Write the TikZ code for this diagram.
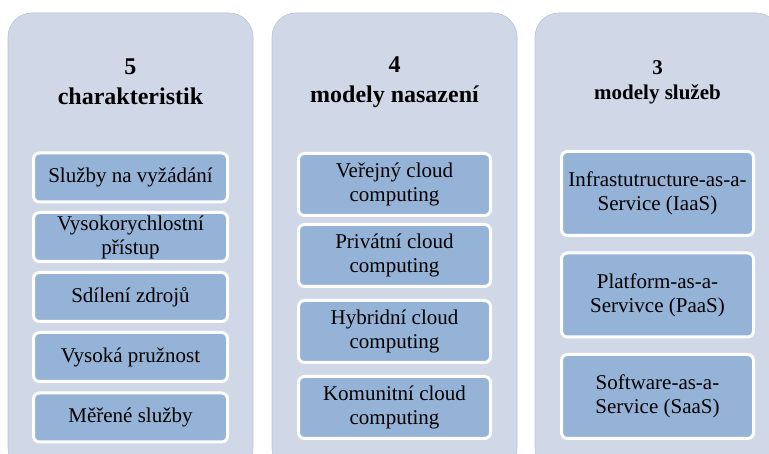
\documentclass[tikz,border=0pt]{standalone}
\usepackage{fontspec}
\setmainfont{Liberation Serif}
\definecolor{panelc}{HTML}{D0D8E8}
\definecolor{paneledge}{HTML}{BCC4D2}
\definecolor{itemc}{HTML}{95B3D7}
\tikzset{
  panel/.style={fill=panelc, draw=paneledge, line width=0.6pt, rounded corners=24pt},
  item/.style={rectangle, rounded corners=6pt, fill=itemc, draw=white, line width=3pt,
    align=center, inner sep=2pt, font=\fontsize{21}{24}\selectfont},
  ptitle/.style={align=center, font=\bfseries\fontsize{24}{30}\selectfont},
  ptitlesmall/.style={align=center, font=\bfseries\fontsize{21}{25}\selectfont}
}
\begin{document}
\begin{tikzpicture}[x=1pt,y=-1pt]
\useasboundingbox (0,0) rectangle (769,454);
\begin{scope}
\clip (0,0) rectangle (769,454);
\draw[panel] (8,13) rectangle (253,472);
\draw[panel] (272,13) rectangle (517,472);
\draw[panel] (535,13) rectangle (780,472);
\end{scope}
% titles
\node[ptitle] (t1) at (130.5,82) {5\\charakteristik};
\node[ptitle] (t2) at (394.5,82) {4\\modely nasazení};
\node[ptitlesmall] (t3) at (657.5,82) {3\\modely služeb};
% panel 1 items
\foreach \n/\y/\t in {a1/177.5/{Služby na vyžádání},a2/237/{Vysokorychlostní\\přístup},a3/297/{Sdílení zdrojů},a4/357/{Vysoká pružnost},a5/417.5/{Měřené služby}}{
  \node[item, minimum width=194pt, minimum height=49pt] (\n) at (130.5,\y) {\t};
}
% panel 2 items
\foreach \n/\y/\t in {b1/184.5/{Veřejný cloud\\computing},b2/255.5/{Privátní cloud\\computing},b3/331.5/{Hybridní cloud\\computing},b4/407.5/{Komunitní cloud\\computing}}{
  \node[item, minimum width=192pt, minimum height=62pt] (\n) at (394.5,\y) {\t};
}
% panel 3 items
\foreach \n/\y/\t in {c1/193.5/{Infrastutructure-as-a-\\Service (IaaS)},c2/295/{Platform-as-a-\\Servivce (PaaS)},c3/396.5/{Software-as-a-\\Service (SaaS)}}{
  \node[item, minimum width=192pt, minimum height=84pt] (\n) at (657.5,\y) {\t};
}
\end{tikzpicture}
\end{document}
